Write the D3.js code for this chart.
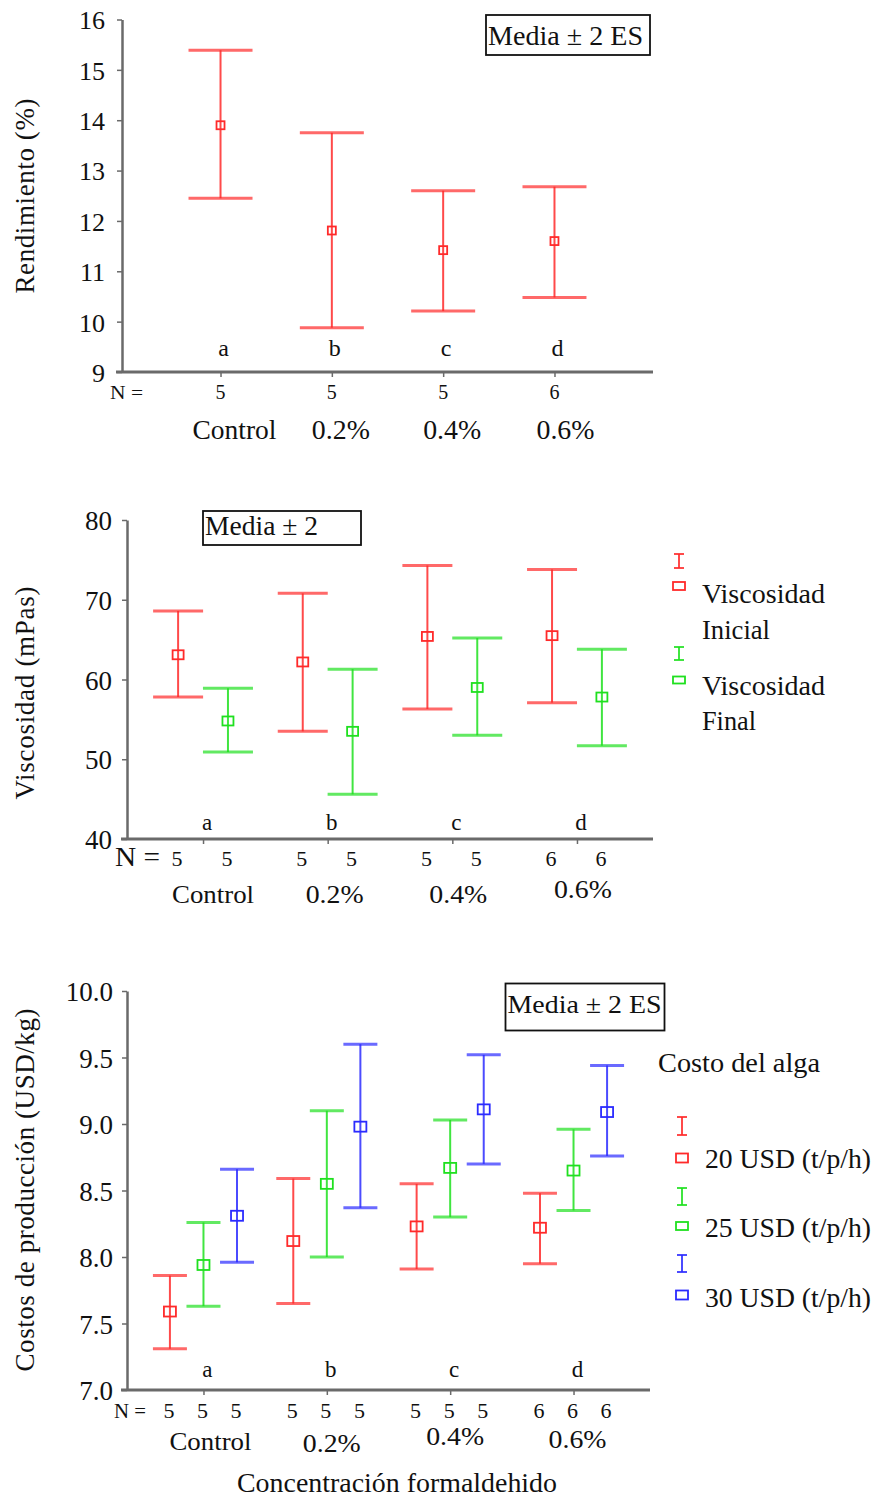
<!DOCTYPE html>
<html>
<head>
<meta charset="utf-8">
<script src="https://cdn.jsdelivr.net/npm/d3@7"></script>
<style>
  html, body { margin: 0; padding: 0; background: #ffffff; }
  svg { display: block; }
  text { font-family: "Liberation Serif", "Times New Roman", serif; fill: #111; }
</style>
</head>
<body>
<script>
// ---------- DATA ----------
const categories = ["Control", "0.2%", "0.4%", "0.6%"];
const groupLetters = ["a", "b", "c", "d"];
const nValues = [5, 5, 5, 6];

// Panel 1: Rendimiento (%)
const rendTicks = [9, 10, 11, 12, 13, 14, 15, 16];
const rendMean  = [13.90, 11.81, 11.42, 11.60];
const rendUpper = [15.39, 13.75, 12.60, 12.68];
const rendLower = [12.45, 9.88, 10.21, 10.48];

// Panel 2: Viscosidad (mPas)
const viscTicks = [40, 50, 60, 70, 80];
const viscSeries = ["Viscosidad Inicial", "Viscosidad Final"];
const viscIniMean  = [63.1, 62.2, 65.4, 65.5];
const viscIniUpper = [68.6, 70.8, 74.3, 73.8];
const viscIniLower = [57.8, 53.5, 56.3, 57.1];
const viscFinMean  = [54.8, 53.5, 59.0, 57.8];
const viscFinUpper = [58.9, 61.3, 65.2, 63.8];
const viscFinLower = [50.9, 45.6, 53.0, 51.7];

// Panel 3: Costos de producción (USD/kg)
const costTicks = [7.0, 7.5, 8.0, 8.5, 9.0, 9.5, 10.0];
const costSeries = ["20 USD (t/p/h)", "25 USD (t/p/h)", "30 USD (t/p/h)"];
const cost20Mean  = [7.59, 8.12, 8.23, 8.22];
const cost20Upper = [7.86, 8.59, 8.55, 8.48];
const cost20Lower = [7.31, 7.65, 7.91, 7.95];
const cost25Mean  = [7.94, 8.55, 8.67, 8.65];
const cost25Upper = [8.26, 9.10, 9.03, 8.96];
const cost25Lower = [7.63, 8.00, 8.30, 8.35];
const cost30Mean  = [8.31, 8.98, 9.11, 9.09];
const cost30Upper = [8.66, 9.60, 9.52, 9.44];
const cost30Lower = [7.96, 8.37, 8.70, 8.76];

// ---------- STYLE ----------
const RED = "#ff2a2a", GREEN = "#1fe01f", BLUE = "#2b2bff";
const AXIS = "#6a6a6a";

const svg = d3.select("body").append("svg")
  .attr("width", 875).attr("height", 1498);

function drawPanel(cfg) {
  const g = svg.append("g");
  const x = d3.scalePoint().domain(categories).range([cfg.x0, cfg.x1]).padding(cfg.pad);
  const y = d3.scaleLinear().domain(cfg.yDomain).range([cfg.yBottom, cfg.yTop]);

  // y axis
  const ya = g.append("g").attr("transform", `translate(${cfg.x0},0)`)
    .call(d3.axisLeft(y).tickValues(cfg.ticks).tickFormat(cfg.fmt).tickSize(5).tickSizeOuter(0).tickPadding(cfg.tickPad));
  ya.select(".domain").attr("stroke", AXIS).attr("stroke-width", 2.5);
  ya.selectAll(".tick line").attr("stroke", AXIS).attr("stroke-width", 1.5);
  ya.selectAll(".tick text").attr("font-size", cfg.tickFont).attr("fill", "#111")
    .attr("font-family", "Liberation Serif, serif").attr("dy", "0.36em");

  // x axis
  const xa = g.append("g").attr("transform", `translate(0,${cfg.yBottom})`)
    .call(d3.axisBottom(x).tickFormat("").tickSize(5).tickSizeOuter(0));
  xa.select(".domain").attr("stroke", AXIS).attr("stroke-width", 3)
    .attr("d", `M${cfg.x0 - 6},0H${cfg.x1}`);
  xa.selectAll(".tick line").attr("stroke", AXIS).attr("stroke-width", 1.5);

  // error bars
  cfg.series.forEach((s, si) => {
    categories.forEach((c, i) => {
      const cx = x(c) + cfg.offsets[si] * x.step();
      const yu = y(s.upper[i]), yl = y(s.lower[i]), ym = y(s.mean[i]);
      g.append("line").attr("x1", cx).attr("x2", cx).attr("y1", yu).attr("y2", yl)
        .attr("stroke", s.color).attr("stroke-width", 2).attr("stroke-opacity", 0.85);
      [yu, yl].forEach(yy => {
        g.append("line").attr("x1", cx - cfg.cap).attr("x2", cx + cfg.cap).attr("y1", yy).attr("y2", yy)
          .attr("stroke", s.color).attr("stroke-width", 3).attr("stroke-opacity", 0.7);
      });
      g.append("rect").attr("x", cx - cfg.mw / 2).attr("y", ym - cfg.mh / 2)
        .attr("width", cfg.mw).attr("height", cfg.mh)
        .attr("fill", "none").attr("stroke", s.color).attr("stroke-width", 1.8);
      // N values
      g.append("text").attr("x", cx + cfg.nDx).attr("y", cfg.nY).attr("text-anchor", "middle")
        .attr("font-size", cfg.nFont).text(nValues[i]);
    });
  });

  // group letters and category labels
  categories.forEach((c, i) => {
    g.append("text").attr("x", x(c) + cfg.letterDx).attr("y", cfg.letterY)
      .attr("text-anchor", "middle").attr("font-size", cfg.letterFont).text(groupLetters[i]);
    g.append("text").attr("x", x(c) + cfg.catDx[i]).attr("y", cfg.catY[i])
      .attr("text-anchor", "middle").attr("font-size", cfg.catFont)
      .attr("textLength", cfg.catLen[i]).attr("lengthAdjust", "spacingAndGlyphs").text(c);
  });

  // "N ="
  g.append("text").attr("x", cfg.nLabelX).attr("y", cfg.nY).attr("font-size", cfg.nLabelFont)
    .attr("textLength", cfg.nLabelLen).attr("lengthAdjust", "spacingAndGlyphs").text("N =");

  // y title
  g.append("text").attr("transform", `translate(${cfg.titleX},${cfg.titleY}) rotate(-90)`)
    .attr("text-anchor", "middle").attr("font-size", cfg.titleFont)
    .attr("textLength", cfg.titleLen).attr("lengthAdjust", "spacing").text(cfg.title);

  // "Media ± 2" box
  const b = cfg.box;
  g.append("rect").attr("x", b.x).attr("y", b.y).attr("width", b.w).attr("height", b.h)
    .attr("fill", "#fff").attr("stroke", "#111").attr("stroke-width", 1.8);
  g.append("text").attr("x", b.x + 2).attr("y", b.base).attr("font-size", b.font)
    .attr("textLength", b.len).attr("lengthAdjust", "spacingAndGlyphs").text(b.text);

  return { g, x, y };
}

function legendItem(g, color, x, yTopI, yBotI, sqY, sqW, sqH) {
  g.append("line").attr("x1", x).attr("x2", x).attr("y1", yTopI).attr("y2", yBotI)
    .attr("stroke", color).attr("stroke-width", 2).attr("stroke-opacity", 0.85);
  [yTopI, yBotI].forEach(yy => g.append("line").attr("x1", x - 5).attr("x2", x + 5)
    .attr("y1", yy).attr("y2", yy).attr("stroke", color).attr("stroke-width", 2).attr("stroke-opacity", 0.85));
  g.append("rect").attr("x", x - sqW / 2).attr("y", sqY - sqH / 2).attr("width", sqW).attr("height", sqH)
    .attr("fill", "none").attr("stroke", color).attr("stroke-width", 1.8);
}

// ---------- PANEL 1 ----------
drawPanel({
  x0: 122, x1: 653, pad: 0.885, yDomain: [9, 16], yBottom: 372, yTop: 19.5,
  ticks: rendTicks, fmt: d3.format("d"), tickFont: 26, tickPad: 12,
  series: [{ mean: rendMean, upper: rendUpper, lower: rendLower, color: RED }],
  offsets: [0], cap: 32, mw: 8, mh: 8,
  nY: 399, nFont: 20, nDx: 0, nLabelX: 110, nLabelFont: 19, nLabelLen: 33,
  letterDx: 3, letterY: 356, letterFont: 24,
  catDx: [14, 9, 9, 11], catY: [439, 439, 439, 439], catFont: 27, catLen: [84, 58, 58, 58],
  title: "Rendimiento (%)", titleX: 34, titleY: 196, titleFont: 27, titleLen: 195,
  box: { x: 486, y: 15, w: 164, h: 40, base: 45, font: 28, len: 155, text: "Media ± 2 ES" }
});

// ---------- PANEL 2 ----------
const p2 = drawPanel({
  x0: 127, x1: 653, pad: 0.61, yDomain: [40, 80], yBottom: 839, yTop: 520,
  ticks: viscTicks, fmt: d3.format("d"), tickFont: 27, tickPad: 10,
  series: [
    { mean: viscIniMean, upper: viscIniUpper, lower: viscIniLower, color: RED },
    { mean: viscFinMean, upper: viscFinUpper, lower: viscFinLower, color: GREEN }
  ],
  offsets: [-0.2, 0.2], cap: 25, mw: 11, mh: 9,
  nY: 866, nFont: 22, nDx: -1, nLabelX: 115, nLabelFont: 27, nLabelLen: 45,
  letterDx: 4, letterY: 830, letterFont: 23,
  catDx: [10, 7, 6, 6], catY: [903, 903, 903, 898], catFont: 26, catLen: [82, 58, 58, 58],
  title: "Viscosidad (mPas)", titleX: 34, titleY: 693, titleFont: 27, titleLen: 213,
  box: { x: 203, y: 511, w: 158, h: 34, base: 535, font: 27, len: 113, text: "Media ± 2" }
});
legendItem(p2.g, RED, 679, 554, 568, 586, 12, 8);
legendItem(p2.g, GREEN, 679, 647, 660, 680, 12, 7);
[["Viscosidad", 603], ["Inicial", 639], ["Viscosidad", 695], ["Final", 730]].forEach(([t, yy]) => {
  p2.g.append("text").attr("x", 702).attr("y", yy).attr("font-size", 27)
    .attr("textLength", t === "Viscosidad" ? 123 : (t === "Inicial" ? 68 : 54))
    .attr("lengthAdjust", "spacingAndGlyphs").text(t);
});

// ---------- PANEL 3 ----------
const p3 = drawPanel({
  x0: 127, x1: 650, pad: 0.62, yDomain: [7, 10], yBottom: 1390, yTop: 991,
  ticks: costTicks, fmt: d3.format(".1f"), tickFont: 27, tickPad: 9,
  series: [
    { mean: cost20Mean, upper: cost20Upper, lower: cost20Lower, color: RED },
    { mean: cost25Mean, upper: cost25Upper, lower: cost25Lower, color: GREEN },
    { mean: cost30Mean, upper: cost30Upper, lower: cost30Lower, color: BLUE }
  ],
  offsets: [-0.272, 0, 0.272], cap: 17, mw: 12, mh: 10,
  nY: 1418, nFont: 22, nDx: -1, nLabelX: 114, nLabelFont: 22, nLabelLen: 32,
  letterDx: 4, letterY: 1377, letterFont: 23,
  catDx: [7, 5, 5, 4], catY: [1450, 1452, 1445, 1448], catFont: 26, catLen: [82, 58, 58, 58],
  title: "Costos de producción (USD/kg)", titleX: 34, titleY: 1190, titleFont: 27, titleLen: 363,
  box: { x: 505.5, y: 983.5, w: 159, h: 47, base: 1013, font: 26, len: 154, text: "Media ± 2 ES" }
});
p3.g.append("text").attr("x", 658).attr("y", 1072).attr("font-size", 27)
  .attr("textLength", 162).attr("lengthAdjust", "spacingAndGlyphs").text("Costo del alga");
legendItem(p3.g, RED, 682, 1117, 1135, 1158, 12, 9);
legendItem(p3.g, GREEN, 682, 1188, 1205, 1226, 12, 8);
legendItem(p3.g, BLUE, 682, 1255, 1272, 1295, 12, 9);
[[costSeries[0], 1168], [costSeries[1], 1237], [costSeries[2], 1307]].forEach(([t, yy]) => {
  p3.g.append("text").attr("x", 705).attr("y", yy).attr("font-size", 27)
    .attr("textLength", 166).attr("lengthAdjust", "spacingAndGlyphs").text(t);
});
p3.g.append("text").attr("x", 397).attr("y", 1492).attr("text-anchor", "middle").attr("font-size", 27)
  .attr("textLength", 320).attr("lengthAdjust", "spacingAndGlyphs").text("Concentración formaldehido");
</script>
</body>
</html>
